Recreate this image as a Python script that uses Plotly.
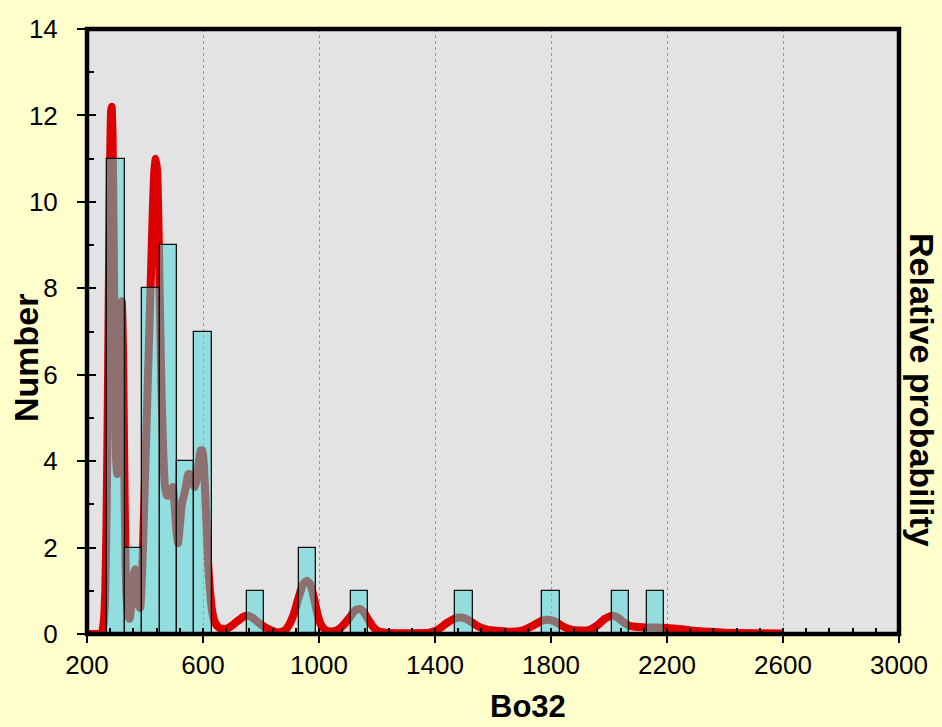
import plotly.graph_objects as go

# Histogram (bin centres, counts)
bin_centers = [300, 360, 420, 480, 540, 600, 780, 960, 1140, 1500, 1800, 2040, 2160]
counts = [11, 2, 8, 9, 4, 7, 1, 2, 1, 1, 1, 1, 1]
bin_width = 60

# Relative probability curve (scaled to the count axis)
curve_x = [200, 230, 245, 252, 258, 263, 267, 271, 275, 279, 283, 285, 288, 292, 296, 300,
           304, 308, 312, 316, 320, 324, 328, 332, 336, 341, 347, 353, 359, 365, 371, 377,
           383, 388, 394, 400, 406, 413, 420, 426, 432, 437, 442, 447, 452, 457, 463, 469,
           476, 483, 490, 496, 502, 508, 514, 520, 527, 534, 541, 549, 556, 564, 572, 579,
           586, 592, 598, 603, 608, 613, 618, 624, 630, 637, 645, 655, 668, 680, 695, 710,
           725, 740, 755, 770, 785, 800, 815, 830, 850, 870, 885, 900, 915, 930, 945, 958,
           970, 982, 995, 1008, 1025, 1045, 1070, 1090, 1110, 1125, 1140, 1155, 1170, 1185,
           1200, 1230, 1300, 1380, 1410, 1440, 1465, 1485, 1505, 1525, 1550, 1580, 1620,
           1660, 1700, 1740, 1770, 1790, 1810, 1840, 1870, 1900, 1930, 1960, 1985, 2010,
           2030, 2050, 2070, 2100, 2150, 2200, 2250, 2300, 2350, 2400, 2500, 2600]
curve_y = [0, 0, 0, 0.05, 0.3, 1.0, 2.5, 4.8, 7.8, 10.6, 12.1, 12.2, 11.6, 9.2, 6.0, 4.1,
           3.7, 4.4, 6.0, 7.4, 7.7, 6.6, 4.2, 2.0, 0.9, 0.45, 0.35, 0.7, 1.3, 1.5, 1.15, 0.7,
           0.6, 1.1, 2.2, 3.6, 5.0, 6.6, 8.2, 9.6, 10.7, 11.0, 10.7, 9.3, 7.4, 5.6, 4.2, 3.4,
           3.2, 3.2, 3.3, 3.4, 3.0, 2.4, 2.1, 2.5, 3.0, 3.2, 3.4, 3.7, 3.7, 3.5, 3.4, 3.6,
           4.0, 4.25, 4.25, 3.9, 3.2, 2.4, 1.6, 1.0, 0.6, 0.35, 0.22, 0.15, 0.12, 0.12, 0.17, 0.25,
           0.33, 0.4, 0.42, 0.38, 0.3, 0.22, 0.15, 0.1, 0.05, 0.05, 0.1, 0.25, 0.5, 0.85, 1.15, 1.23,
           1.15, 0.85, 0.45, 0.2, 0.08, 0.06, 0.12, 0.25, 0.42, 0.55, 0.58, 0.5, 0.33, 0.18,
           0.08, 0.03, 0.02, 0.03, 0.1, 0.25, 0.35, 0.38, 0.36, 0.28, 0.17, 0.1, 0.07,
           0.05, 0.08, 0.2, 0.31, 0.33, 0.3, 0.18, 0.1, 0.08, 0.09, 0.2, 0.35, 0.42,
           0.38, 0.27, 0.19, 0.16, 0.15, 0.14, 0.11, 0.07, 0.05, 0.03, 0.02, 0.01]

x_ticks = [200, 600, 1000, 1400, 1800, 2200, 2600, 3000]
y_ticks = [0, 2, 4, 6, 8, 10, 12, 14]

FONT = "Liberation Sans, Arial, sans-serif"

fig = go.Figure()

fig.add_trace(go.Scatter(
    x=curve_x, y=curve_y, mode="lines",
    line=dict(color="#DD0000", width=8, shape="spline", smoothing=0.5),
    xaxis="x", yaxis="y", showlegend=False, hoverinfo="skip"))

fig.add_trace(go.Bar(
    x=bin_centers, y=counts, width=bin_width,
    marker=dict(color="rgba(70,214,214,0.52)", line=dict(color="#111111", width=1.3)),
    xaxis="x", yaxis="y2", showlegend=False))

fig.update_layout(
    width=942, height=727,
    margin=dict(l=87, r=43, t=29, b=93),
    paper_bgcolor="#FFFFCC",
    plot_bgcolor="#E3E3E3",
    font=dict(family=FONT, color="black"),
    bargap=0,
    xaxis=dict(
        range=[200, 3000], tickmode="array", tickvals=x_ticks,
        ticktext=[str(v) for v in x_ticks],
        ticks="outside", ticklen=8, tickwidth=2, tickcolor="black",
        tickfont=dict(size=26, family=FONT, color="black"),
        showgrid=True, gridcolor="#9A9A9A", gridwidth=1, griddash="dot",
        zeroline=False, showline=False,
        minor=dict(dtick=80, tick0=200, ticks="inside", ticklen=6, tickwidth=2,
                   tickcolor="black", showgrid=False),
    ),
    yaxis=dict(
        range=[0, 14], tickmode="array", tickvals=y_ticks,
        ticks="outside", ticklen=9, tickwidth=2, tickcolor="black",
        tickfont=dict(size=26, family=FONT, color="black"),
        ticklabelstandoff=14,
        showgrid=False, zeroline=False, showline=False,
        minor=dict(dtick=1, tick0=0, ticks="inside", ticklen=7, tickwidth=2,
                   tickcolor="black", showgrid=False),
    ),
    yaxis2=dict(
        range=[0, 14], overlaying="y", side="left", anchor="x",
        tickmode="array", tickvals=y_ticks,
        ticks="inside", ticklen=9, tickwidth=2, tickcolor="black",
        showticklabels=False, showgrid=False, zeroline=False, showline=False,
    ),
    shapes=[dict(type="rect", xref="paper", yref="paper", x0=0, x1=1, y0=0, y1=1,
                 line=dict(color="black", width=4.5), layer="above")],
    annotations=[
        dict(text="<b>Number</b>", xref="paper", yref="paper",
             x=(26 - 87) / 812, y=(634 - 358) / 605, textangle=-90,
             showarrow=False, xanchor="center", yanchor="middle",
             font=dict(size=34, family=FONT, color="black")),
        dict(text="<b>Relative probability</b>", xref="paper", yref="paper",
             x=(922 - 87) / 812, y=(634 - 390) / 605, textangle=90,
             showarrow=False, xanchor="center", yanchor="middle",
             font=dict(size=34, family=FONT, color="black")),
        dict(text="<b>Bo32</b>", xref="paper", yref="paper",
             x=(528 - 87) / 812, y=(634 - 706) / 605,
             showarrow=False, xanchor="center", yanchor="middle",
             font=dict(size=31, family=FONT, color="black")),
    ],
)

fig.write_html("out.html", config={"displayModeBar": False},
               post_script="document.body.style.margin='0';document.body.style.padding='0';")
